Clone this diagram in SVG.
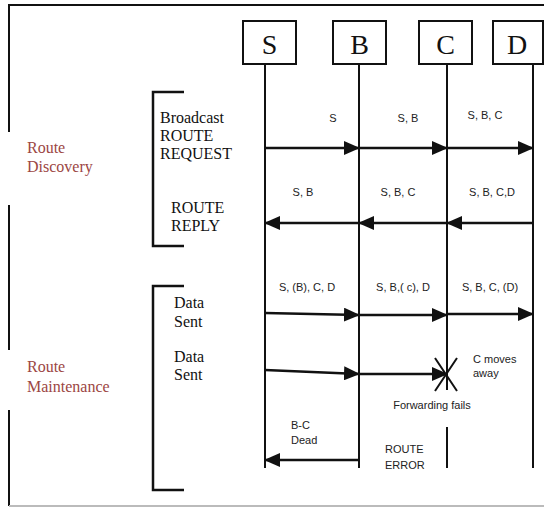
<svg xmlns="http://www.w3.org/2000/svg" width="544" height="507" viewBox="0 0 544 507">
<style>
.frame{stroke:#111;stroke-width:2;fill:none}
.box{fill:#fff;stroke:#111;stroke-width:2}
.life{stroke:#111;stroke-width:2;fill:none}
.arr{stroke:#111;stroke-width:2.5;fill:none;marker-end:url(#ah)}
.brk{stroke:#111;stroke-width:2.5;fill:none}
.node{font-family:"Liberation Serif","Times New Roman",serif;font-size:28px;fill:#111;text-anchor:middle}
.ser{font-family:"Liberation Serif","Times New Roman",serif;font-size:16px;fill:#111}
.phase{font-family:"Liberation Serif","Times New Roman",serif;font-size:16px;fill:#9c4643}
.lbl{font-family:"Liberation Sans",Arial,sans-serif;font-size:11px;fill:#222;text-anchor:middle}
.lbll{font-family:"Liberation Sans",Arial,sans-serif;font-size:11px;fill:#222}
</style>
<defs>
<marker id="ah" markerWidth="16" markerHeight="14" refX="15" refY="7" orient="auto" markerUnits="userSpaceOnUse">
<path d="M0,0 L16,7 L0,14 Z" fill="#111"/>
</marker>
</defs>
<rect width="544" height="507" fill="#fff"/>
<g id="frame">
<path class="frame" d="M9,132 V5 H544"/>
<path class="frame" d="M9,205 V350"/>
<path class="frame" d="M9,410 V506"/>
<path d="M9,506 H544" stroke="#bbb" stroke-width="2"/>
</g>
<g id="node-S"><rect class="box" x="243" y="21" width="53" height="43"/><text class="node" x="269.5" y="54">S</text></g>
<g id="node-B"><rect class="box" x="333" y="21" width="53" height="43"/><text class="node" x="359.5" y="54">B</text></g>
<g id="node-C"><rect class="box" x="419" y="21" width="53" height="43"/><text class="node" x="445.5" y="54">C</text></g>
<g id="node-D"><rect class="box" x="493" y="21" width="50" height="43"/><text class="node" x="517" y="54">D</text></g>
<g id="lifelines">
<path class="life" d="M265,64 V468"/>
<path class="life" d="M359,64 V468"/>
<path class="life" d="M447,64 V390 M447,427 V468"/>
<path class="life" d="M533,64 V468"/>
</g>
<g id="phase-labels">
<text class="phase" x="27" y="153">Route</text>
<text class="phase" x="27" y="172">Discovery</text>
<text class="phase" x="27" y="372">Route</text>
<text class="phase" x="27" y="392">Maintenance</text>
</g>
<g id="brackets">
<path class="brk" d="M184,92 H153 V246 H184"/>
<path class="brk" d="M184,286 H153 V490 H184"/>
</g>
<g id="step-labels">
<text class="ser" x="160" y="123">Broadcast</text>
<text class="ser" x="160" y="141">ROUTE</text>
<text class="ser" x="160" y="159">REQUEST</text>
<text class="ser" x="171" y="213">ROUTE</text>
<text class="ser" x="171" y="231">REPLY</text>
<text class="ser" x="174" y="308">Data</text>
<text class="ser" x="174" y="327">Sent</text>
<text class="ser" x="174" y="362">Data</text>
<text class="ser" x="174" y="380">Sent</text>
</g>
<g id="connectors">
<path class="arr" d="M265,148 H359"/>
<path class="arr" d="M359,148 H447"/>
<path class="arr" d="M447,148 H533"/>
<path class="arr" d="M533,223 H447"/>
<path class="arr" d="M447,223 H359"/>
<path class="arr" d="M359,223 H265"/>
<path class="arr" d="M265,313 L359,315"/>
<path class="arr" d="M359,315 H447"/>
<path class="arr" d="M447,314 H533"/>
<path class="arr" d="M265,370 L359,374"/>
<path class="arr" d="M359,374 H447"/>
<path class="arr" d="M359,460 H265"/>
<path d="M435,358 L457,391 M457,358 L435,391" stroke="#111" stroke-width="2" fill="none"/>
</g>
<g id="msg-labels">
<text class="lbl" x="333" y="122">S</text>
<text class="lbl" x="408" y="122">S, B</text>
<text class="lbl" x="485" y="119">S, B, C</text>
<text class="lbl" x="303" y="196">S, B</text>
<text class="lbl" x="398" y="196">S, B, C</text>
<text class="lbl" x="492" y="196">S, B, C,D</text>
<text class="lbl" x="307" y="291">S, (B), C, D</text>
<text class="lbl" x="403" y="291">S, B,( c), D</text>
<text class="lbl" x="490" y="291">S, B, C, (D)</text>
<text class="lbll" x="473" y="363">C moves</text>
<text class="lbll" x="473" y="377">away</text>
<text class="lbl" x="432" y="409">Forwarding fails</text>
<text class="lbll" x="291" y="429">B-C</text>
<text class="lbll" x="291" y="444">Dead</text>
<text class="lbll" x="385" y="453">ROUTE</text>
<text class="lbll" x="385" y="469">ERROR</text>
</g>
</svg>
